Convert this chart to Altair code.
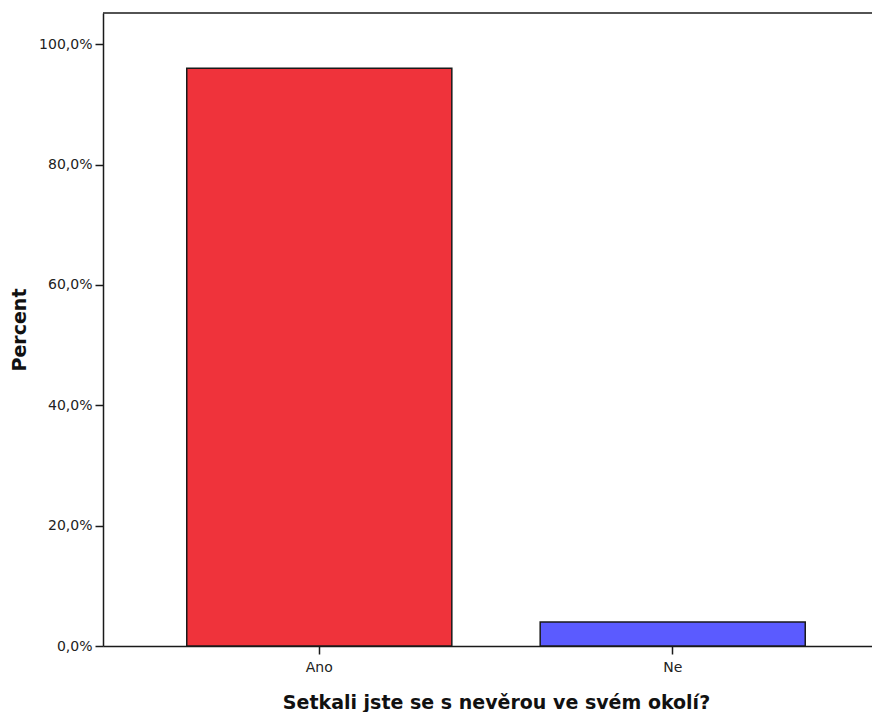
import altair as alt
import pandas as pd

categories = ["Ano", "Ne"]
percents = [96.0, 4.0]
bar_colors = ["#EF333B", "#5B5BFF"]
y_ticks = [0, 20, 40, 60, 80, 100]

df = pd.DataFrame({"cat": categories, "pct": percents, "color": bar_colors})

W = 769
H = 633

bars = alt.Chart(df).mark_bar(stroke="#1a1a1a", strokeWidth=1.5).encode(
    x=alt.X(
        "cat:N",
        sort=categories,
        scale=alt.Scale(range=[0, 786], paddingInner=0.25, paddingOuter=0.237),
        axis=alt.Axis(
            title="Setkali jste se s nevěrou ve svém okolí?",
            labelAngle=0,
            tickSize=8,
            labelPadding=6,
            titlePadding=19,
        ),
    ),
    y=alt.Y(
        "pct:Q",
        scale=alt.Scale(domain=[0, 105.2], nice=False),
        axis=alt.Axis(
            values=y_ticks,
            labelExpr="replace(format(datum.value, '.1f'), '.', ',') + '%'",
            title="Percent",
            tickSize=8,
            labelPadding=3,
            titlePadding=9,
            grid=False,
        ),
    ),
    color=alt.Color("color:N", scale=None),
)

top = alt.Chart(pd.DataFrame({"a": [0]})).mark_rule(color="#1a1a1a", strokeWidth=1.5).encode(
    x=alt.value(0), x2=alt.value(W), y=alt.value(0)
)

chart = (
    alt.layer(bars, top)
    .properties(
        width=W,
        height=H,
        autosize=alt.AutoSizeParams(type="none"),
        padding={"left": 95, "top": 5, "right": 0, "bottom": 66},
    )
    .configure_view(stroke=None)
    .configure_axis(
        domainColor="#1a1a1a",
        domainWidth=1.5,
        tickColor="#1a1a1a",
        tickWidth=1.5,
        labelFont="DejaVu Sans",
        labelFontSize=14,
        labelColor="#222222",
        titleFont="DejaVu Sans",
        titleFontSize=19,
        titleFontWeight="bold",
        titleColor="#111111",
    )
)

chart.save("out.html", embed_options={"renderer": "svg", "actions": False})
